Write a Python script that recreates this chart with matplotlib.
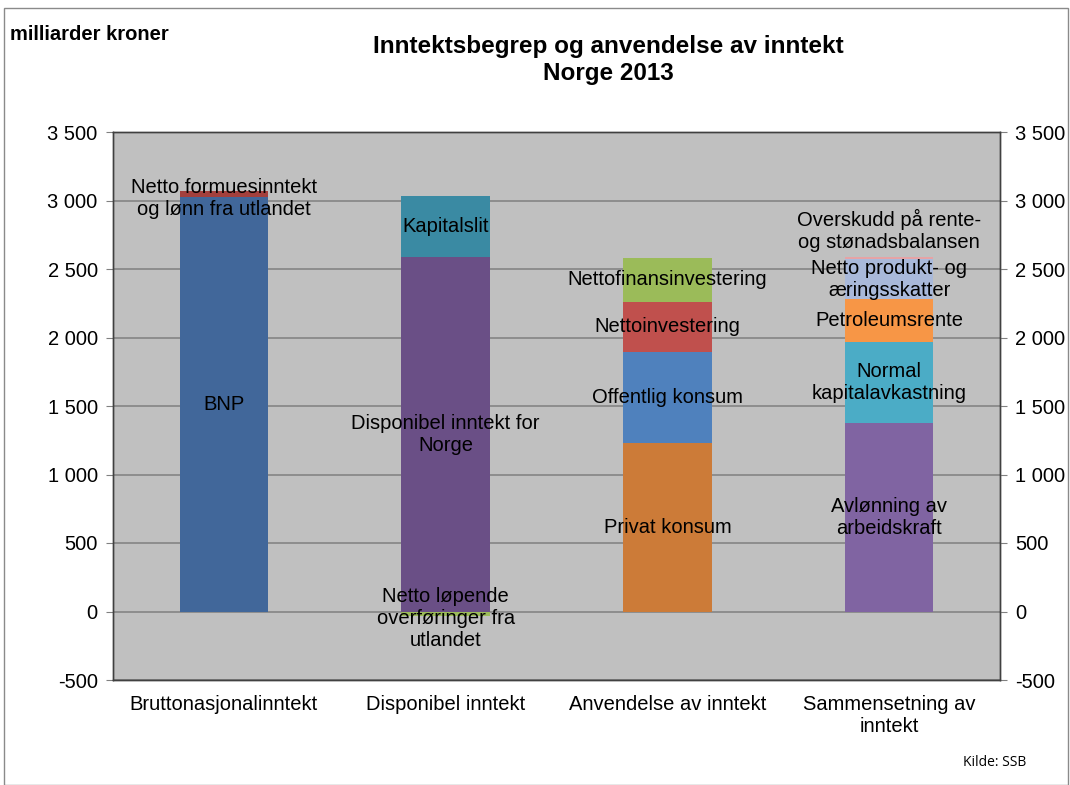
import matplotlib
matplotlib.use("Agg")
import matplotlib.pyplot as plt
from matplotlib.patches import Rectangle

plt.rcParams['font.family'] = ['Liberation Sans', 'DejaVu Sans']

categories = ["Bruttonasjonalinntekt", "Disponibel inntekt",
              "Anvendelse av inntekt", "Sammensetning av\ninntekt"]

# Segments per category (bottom to top), values in milliarder kroner
bar1_labels = ["BNP", "Netto formuesinntekt\nog lønn fra utlandet"]
bar1_values = [3027, 43]
bar2_labels = ["Disponibel inntekt for\nNorge", "Kapitalslit",
               "Netto løpende\noverføringer fra\nutlandet"]
bar2_values = [2590, 440, -35]
bar3_labels = ["Privat konsum", "Offentlig konsum", "Nettoinvestering",
               "Nettofinansinvestering"]
bar3_values = [1230, 665, 365, 322]
bar4_labels = ["Avlønning av\narbeidskraft", "Normal\nkapitalavkastning",
               "Petroleumsrente", "Netto produkt- og\næringsskatter",
               "Overskudd på rente-\nog stønadsbalansen"]
bar4_values = [1376, 592, 314, 290, 17]

yticks = [-500, 0, 500, 1000, 1500, 2000, 2500, 3000, 3500]

bar1_colors = ["#41679A", "#A3403D"]
bar2_colors = ["#6A4F86", "#3A8AA3", "#9BBB59"]
bar3_colors = ["#CC7B38", "#4F81BD", "#C0504D", "#9BBB59"]
bar4_colors = ["#8064A2", "#4BACC6", "#F79646", "#A9B9DA", "#E6A3A5"]

all_labels = [bar1_labels, bar2_labels, bar3_labels, bar4_labels]
all_values = [bar1_values, bar2_values, bar3_values, bar4_values]
all_colors = [bar1_colors, bar2_colors, bar3_colors, bar4_colors]

FS = 14.5

fig = plt.figure(figsize=(10.7, 7.85), dpi=100)
ax = fig.add_axes([113/1070, 1-680/785, (1000-113)/1070, (680-132)/785])
ax.set_facecolor("#C0C0C0")

width = 0.40
label_offsets = {"Overskudd på rente-\nog stønadsbalansen": 20,
                 "Netto formuesinntekt\nog lønn fra utlandet": -3,
                 "Netto løpende\noverføringer fra\nutlandet": -3}

for i, (labs, vals, cols) in enumerate(zip(all_labels, all_values, all_colors)):
    pos_bottom = 0.0
    neg_bottom = 0.0
    for lab, v, c in zip(labs, vals, cols):
        if v >= 0:
            b = pos_bottom
            pos_bottom += v
        else:
            b = neg_bottom
            neg_bottom += v
        ax.bar(i, v, bottom=b, width=width, color=c, edgecolor="none", zorder=2)
        yc = b + v / 2
        off = label_offsets.get(lab, 0)
        ax.annotate(lab, (i, yc), xytext=(0, off), textcoords="offset points",
                    ha="center", va="center", fontsize=FS, color="black",
                    linespacing=1.2, zorder=4)

ax.set_xlim(-0.5, 3.5)
ax.set_ylim(-500, 3500)
ax.set_yticks(yticks)
ax.set_yticklabels([f"{t:,}".replace(",", " ") for t in yticks], fontsize=FS)
ax.yaxis.grid(True, color="#858585", linewidth=1.2, zorder=1)
ax.set_axisbelow(True)
ax.set_xticks(range(4))
ax.set_xticklabels(categories, fontsize=FS, linespacing=1.2)
ax.tick_params(axis="x", length=0, pad=11)
ax.tick_params(axis="y", length=5, color="#808080", pad=6)
for s in ax.spines.values():
    s.set_color("#404040")
    s.set_linewidth(1.0)

ax2 = ax.twinx()
ax2.set_ylim(-500, 3500)
ax2.set_yticks(yticks)
ax2.set_yticklabels([f"{t:,}".replace(",", " ") for t in yticks], fontsize=FS)
ax2.tick_params(axis="y", length=5, color="#808080", pad=6)
for s in ax2.spines.values():
    s.set_color("#404040")
    s.set_linewidth(1.0)

fig.text(608/1070, 1-60/785, "Inntektsbegrep og anvendelse av inntekt\nNorge 2013",
         ha="center", va="center", fontsize=17.5, fontweight="bold", linespacing=1.2)
fig.text(10/1070, 1-35/785, "milliarder kroner", ha="left", va="center",
         fontsize=14.5, fontweight="bold")
fig.text(995/1070, 1-763/785, "Kilde: SSB", ha="center", va="center",
         fontsize=10, family=["Open Sans", "DejaVu Sans"])

fig.patches.append(Rectangle((4/1070, 0), 1064/1070, 1-8/785, transform=fig.transFigure,
                             fill=False, edgecolor="#8A8A8A", linewidth=1.0))

fig.savefig("out.png", dpi=100)
